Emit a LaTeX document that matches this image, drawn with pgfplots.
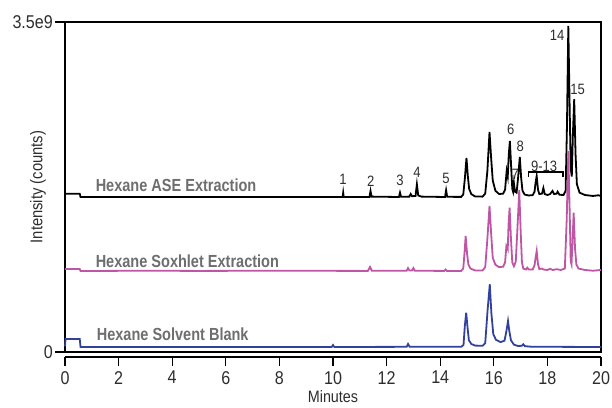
\documentclass[border=0pt]{standalone}
\usepackage{pgfplots}
\pgfplotsset{compat=1.18}
\usepackage{fontspec}
\setmainfont{Liberation Sans}[FakeStretch=0.87]
\newfontfamily\labfont{Liberation Sans}[FakeStretch=0.83]
\definecolor{pinkc}{RGB}{190,85,165}
\definecolor{bluec}{RGB}{50,65,155}
\definecolor{labgray}{RGB}{110,110,112}
\definecolor{txt}{RGB}{45,45,45}
\begin{document}
\begin{tikzpicture}
\useasboundingbox (-65pt,-55pt) rectangle (547pt,352pt);
\begin{axis}[
  scale only axis, width=536pt, height=330pt,
  xmin=0, xmax=20, ymin=0, ymax=3.5, clip=false,
  axis line style={line width=1.4pt},
  xtick=\empty, ytick={0,3.5}, yticklabels={0,3.5e9},
  ytick pos=left, tick align=outside, major tick length=10pt,
  tick style={line width=1.2pt, black},
  yticklabel style={font=\fontsize{18.5}{20}\selectfont, text=txt, inner sep=2pt},
]
\addplot[black, line width=1.8pt] coordinates {
(0,1.679)(0.55,1.679)(0.58,1.644)(10.3,1.644)(10.36,1.644)(10.38,1.69)(10.40,1.644)
(11.36,1.644)(11.4,1.708)(11.44,1.648)(12.46,1.644)(12.5,1.69)(12.54,1.646)
(12.85,1.648)(12.9,1.676)(12.95,1.652)(13.08,1.655)(13.13,1.779)(13.18,1.66)(13.3,1.648)
(14.18,1.644)(14.22,1.715)(14.26,1.646)
(14.78,1.645)(14.86,1.67)(14.92,1.84)(14.98,2.058)(15.03,1.87)(15.08,1.73)(15.16,1.675)(15.3,1.65)
(15.58,1.648)(15.68,1.68)(15.76,1.92)(15.84,2.333)(15.9,2.06)(15.96,1.82)(16.06,1.71)(16.2,1.675)(16.35,1.68)
(16.42,1.72)(16.48,1.92)(16.52,1.86)(16.56,2.1)(16.6,2.238)(16.65,1.95)(16.69,1.73)(16.72,1.70)
(16.75,1.792)(16.79,1.70)(16.85,1.69)(16.91,1.86)(16.97,2.068)(17.02,1.85)(17.07,1.71)(17.15,1.67)
(17.3,1.66)(17.45,1.664)(17.52,1.70)(17.56,1.8)(17.6,1.867)(17.65,1.72)(17.7,1.675)(17.8,1.68)
(17.85,1.739)(17.9,1.675)(18.0,1.665)(18.1,1.675)(18.19,1.708)(18.25,1.675)(18.35,1.68)(18.38,1.70)
(18.45,1.668)(18.6,1.665)(18.68,1.71)(18.73,2.4)(18.78,3.458)(18.83,2.6)(18.87,1.95)(18.91,1.86)
(18.95,2.3)(19.0,2.683)(19.05,2.1)(19.1,1.78)(19.2,1.69)(19.4,1.665)(19.7,1.655)(19.9,1.662)(20,1.655)
};
\addplot[pinkc, line width=1.8pt] coordinates {
(0,0.88)(0.55,0.88)(0.58,0.859)(3,0.862)(5,0.86)(8,0.862)(11.3,0.86)(11.38,0.902)(11.45,0.862)
(12.75,0.862)(12.8,0.89)(12.85,0.865)(12.95,0.865)(13.0,0.89)(13.05,0.862)(14.15,0.86)(14.2,0.875)(14.25,0.86)
(14.78,0.86)(14.86,0.885)(14.91,1.06)(14.95,1.23)(15.0,1.05)(15.05,0.93)(15.13,0.885)(15.3,0.865)
(15.58,0.865)(15.68,0.9)(15.76,1.2)(15.84,1.549)(15.9,1.26)(15.96,1.0)(16.06,0.925)(16.2,0.9)
(16.35,0.905)(16.42,0.95)(16.47,1.124)(16.52,1.09)(16.55,1.35)(16.59,1.53)(16.64,1.2)(16.69,0.95)
(16.75,0.91)(16.82,0.96)(16.88,1.3)(16.95,1.718)(17.0,1.3)(17.05,0.95)(17.1,0.885)(17.2,0.875)
(17.25,0.894)(17.3,0.875)(17.45,0.875)(17.52,0.92)(17.56,1.0)(17.6,1.071)(17.65,0.93)(17.7,0.88)
(17.8,0.885)(17.85,0.875)(18.0,0.87)(18.1,0.882)(18.2,0.87)(18.35,0.878)(18.5,0.87)(18.65,0.885)
(18.72,1.4)(18.78,2.132)(18.83,1.5)(18.87,0.96)(18.9,0.93)(18.94,1.2)(18.98,1.477)(19.03,1.1)
(19.08,0.93)(19.16,0.885)(19.4,0.87)(19.7,0.862)(20,0.87)
};
\addplot[bluec, line width=1.8pt] coordinates {
(0,0.06)(0.02,0.138)(0.55,0.138)(0.58,0.053)(9.95,0.053)(10.0,0.074)(10.05,0.053)
(12.75,0.055)(12.8,0.085)(12.86,0.056)
(14.78,0.055)(14.87,0.075)(14.92,0.28)(14.97,0.417)(15.02,0.26)(15.07,0.125)(15.16,0.085)(15.3,0.068)
(15.58,0.066)(15.68,0.095)(15.77,0.45)(15.85,0.718)(15.91,0.41)(15.98,0.19)(16.08,0.13)(16.25,0.105)
(16.4,0.12)(16.47,0.22)(16.53,0.329)(16.58,0.22)(16.64,0.125)(16.75,0.078)(16.9,0.064)(17.05,0.066)
(17.1,0.082)(17.16,0.062)(17.4,0.056)(20,0.053)
};
\addplot[black, line width=1.2pt] coordinates {(17.28,1.856)(17.28,1.909)(18.58,1.909)(18.58,1.856)};
% series labels
\node[anchor=base west, text=labgray, font=\labfont\bfseries\fontsize{17.5}{19}\selectfont, inner sep=0pt] at (axis cs:1.14,1.707) {Hexane ASE Extraction};
\node[anchor=base west, text=labgray, font=\labfont\bfseries\fontsize{17.5}{19}\selectfont, inner sep=0pt] at (axis cs:1.14,0.891) {Hexane Soxhlet Extraction};
\node[anchor=base west, text=labgray, font=\labfont\bfseries\fontsize{17.5}{19}\selectfont, inner sep=0pt] at (axis cs:1.18,0.127) {Hexane Solvent Blank};
% peak labels
\begin{scope}[every node/.style={text=txt, font=\fontsize{15}{16}\selectfont, inner sep=0pt}]
\node at (axis cs:10.37,1.835) {1};
\node at (axis cs:11.41,1.814) {2};
\node at (axis cs:12.5,1.824) {3};
\node at (axis cs:13.13,1.902) {4};
\node at (axis cs:14.22,1.845) {5};
\node at (axis cs:16.63,2.358) {6};
\node at (axis cs:16.8,1.888) {7};
\node at (axis cs:16.99,2.185) {8};
\node at (axis cs:17.88,1.973) {9-13};
\node at (axis cs:18.36,3.362) {14};
\node at (axis cs:19.13,2.789) {15};
\end{scope}
\node[rotate=90, text=txt, font=\fontsize{17}{19}\selectfont] at ([xshift=-27pt]rel axis cs:0,0.5) {Intensity (counts)};
\node[text=txt, font=\fontsize{16.5}{18}\selectfont] at ([yshift=-45pt]axis cs:10,0) {Minutes};
\end{axis}
\begin{axis}[
  at={(0,-5pt)}, anchor=south west,
  scale only axis, width=536pt, height=20pt,
  xmin=0, xmax=20, ymin=0, ymax=1,
  axis x line*=bottom, axis y line=none,
  axis line style={line width=1.4pt},
  xtick={0,2,...,20}, tick align=outside, major tick length=9pt,
  tick style={line width=1.2pt, black},
  /pgf/number format/assume math mode=true,
  xticklabel style={font=\fontsize{18.5}{20}\selectfont, text=txt, inner sep=2pt, yshift=-3pt},
]
\end{axis}
\end{tikzpicture}
\end{document}
